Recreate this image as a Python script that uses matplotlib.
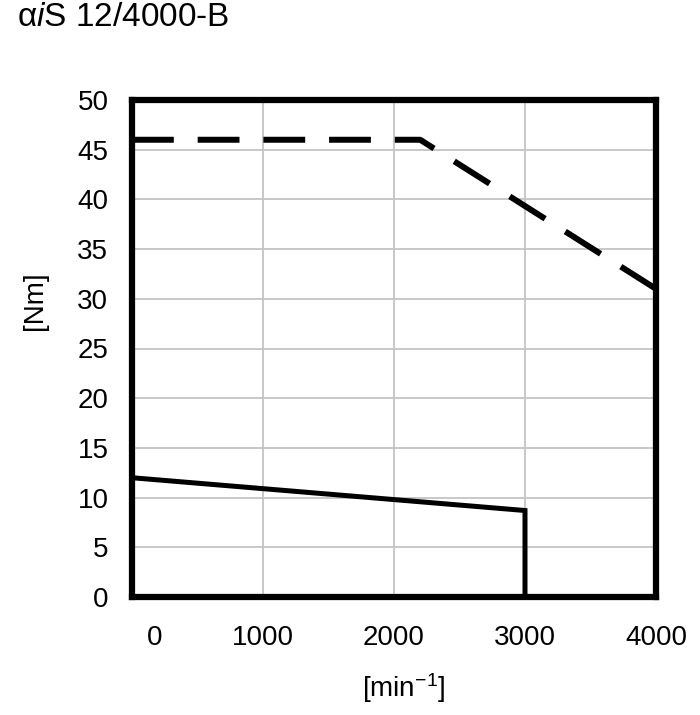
import matplotlib
matplotlib.use("Agg")
import matplotlib.pyplot as plt
import matplotlib.transforms as mtransforms

# continuous (solid) and max (dashed) torque curves
speed_cont = [0, 3000, 3000]
torque_cont = [12.0, 8.7, 0.0]
speed_max = [0, 2200, 4000]
torque_max = [46.0, 46.0, 31.0]

x_ticks = [0, 1000, 2000, 3000, 4000]
x_grid = [1000, 2000, 3000]
y_ticks = [0, 5, 10, 15, 20, 25, 30, 35, 40, 45, 50]

plt.rcParams['font.family'] = ['Liberation Sans', 'DejaVu Sans']
plt.rcParams['mathtext.fontset'] = 'custom'
plt.rcParams['mathtext.rm'] = 'Liberation Sans'
plt.rcParams['mathtext.it'] = 'Liberation Sans:italic'

fig = plt.figure(figsize=(7.0, 7.15), dpi=100)
ax = fig.add_axes([132 / 700, 118 / 715, 524 / 700, 497 / 715])

ax.plot(speed_max, torque_max, color='black', linewidth=4.3,
        linestyle=(0, (7, 4)), solid_joinstyle='miter', dash_capstyle='butt')
ax.plot(speed_cont, torque_cont, color='black', linewidth=3.6,
        solid_joinstyle='miter')

ax.set_xlim(0, 4000)
ax.set_ylim(0, 50)
ax.xaxis.remove_overlapping_locs = False
ax.set_xticks(x_ticks)
ax.set_yticks(y_ticks)
ax.set_xticks(x_grid, minor=True)

ax.grid(False)
ax.yaxis.grid(True, color='#c4c4c4', linewidth=1.3)
ax.xaxis.grid(True, which='minor', color='#c4c4c4', linewidth=1.3)
ax.set_axisbelow(True)

for s in ax.spines.values():
    s.set_linewidth(4.5)
    s.set_color('black')

ax.tick_params(axis='both', which='both', length=0, labelsize=20)
ax.tick_params(axis='y', pad=17)
ax.tick_params(axis='x', pad=20)

# first x label sits a little to the right of the axis edge
lbl0 = ax.get_xticklabels()[0]
lbl0.set_transform(lbl0.get_transform() +
                   mtransforms.ScaledTranslation(23 / 100, 0, fig.dpi_scale_trans))

fig.text(404 / 700, 1 - 688 / 715, r'[min$^{-1}$]', fontsize=20,
         ha='center', va='center')
fig.text(35 / 700, 1 - 301 / 715, '[Nm]', fontsize=20, rotation=90,
         ha='center', va='center')
fig.text(17 / 700, 1 - 18 / 715, r'α$\mathit{i}$S 12/4000-B', fontsize=24,
         ha='left', va='center')

fig.savefig('out.png', dpi=100)
